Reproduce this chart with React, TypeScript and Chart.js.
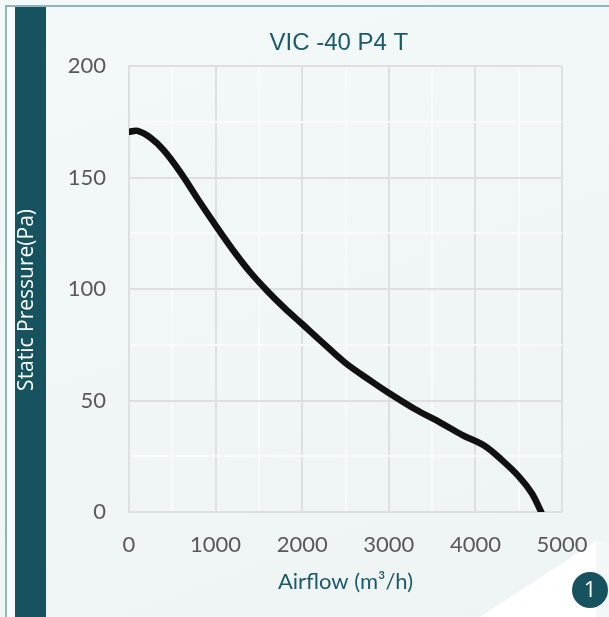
import React, { useEffect, useRef } from "react";
import { Chart, registerables } from "chart.js";

Chart.register(...registerables);

// Airflow (m³/h) and static pressure (Pa)
const airflow = [0, 100, 250, 400, 600, 800, 1000, 1200, 1400, 1600, 1800, 2000, 2200, 2500, 2800, 3000, 3300, 3600, 3850, 4100, 4300, 4500, 4650, 4760];
const pressure = [170.5, 170.9, 167.8, 162.3, 152, 140, 128.5, 117.5, 107.5, 99, 91.3, 84.3, 77.2, 66.8, 58.6, 53.4, 46.2, 40, 34.5, 29.8, 23.5, 16, 8.5, 0];

const xTicks = [0, 1000, 2000, 3000, 4000, 5000];
const yTicks = [0, 50, 100, 150, 200];

const chartTitle = "VIC -40 P4 T";
const xTitle = "Airflow (m³/h)";
const yTitle = "Static Pressure(Pa)";
const badge = "1";

const TEAL = "#17535f";
const TEAL_TEXT = "#1b5a67";
const MAJOR = "#dedfe1";
const MINOR = "#f9fbfb";

const decor = {
  id: "decor",
  beforeDraw(chart: any) {
    const ctx = chart.ctx;
    const W = chart.width;
    const H = chart.height;
    ctx.save();
    // outer border
    ctx.fillStyle = "#f8fbfb";
    ctx.fillRect(7, 7, 8, H - 7);
    ctx.fillStyle = "#93b4bc";
    ctx.fillRect(5, 5, W - 5, 2);
    ctx.fillRect(5, 5, 2, H - 5);
    // teal bar
    ctx.fillStyle = TEAL;
    ctx.fillRect(15, 7, 31, H - 7);
    // white fold bottom-right
    ctx.fillStyle = "#ffffff";
    ctx.beginPath();
    ctx.moveTo(480, H);
    ctx.lineTo(598, 540);
    ctx.lineTo(W, 546);
    ctx.lineTo(W, H);
    ctx.closePath();
    ctx.fill();
    ctx.fillStyle = "#f4f7f7";
    ctx.beginPath();
    ctx.moveTo(596, 542);
    ctx.lineTo(598, 540);
    ctx.lineTo(W, 546);
    ctx.lineTo(W, H);
    ctx.lineTo(596, H);
    ctx.closePath();
    ctx.fill();
    // badge circle
    ctx.fillStyle = TEAL;
    ctx.beginPath();
    ctx.arc(590, 590, 18, 0, Math.PI * 2);
    ctx.fill();
    ctx.fillStyle = "#ffffff";
    ctx.font = "22px 'Open Sans'";
    ctx.textAlign = "center";
    ctx.textBaseline = "middle";
    ctx.fillText(badge, 590, 591);
    ctx.restore();
  },
};

export default function App() {
  const ref = useRef<HTMLCanvasElement | null>(null);

  useEffect(() => {
    if (!ref.current) return;
    const chart = new Chart(ref.current, {
      type: "scatter",
      data: {
        datasets: [
          {
            data: airflow.map((q, i) => ({ x: q, y: pressure[i] })),
            showLine: true,
            borderColor: "#111111",
            borderWidth: 6.5,
            pointRadius: 0,
            tension: 0.35,
            borderCapStyle: "round",
            borderJoinStyle: "round",
          },
        ],
      },
      plugins: [decor],
      options: {
        animation: false,
        responsive: false,
        layout: { padding: { left: 0, right: 47, top: 0, bottom: 0 } },
        plugins: {
          legend: { display: false },
          tooltip: { enabled: false },
          title: {
            display: true,
            fullSize: false,
            text: chartTitle + "  ",
            color: TEAL_TEXT,
            font: { family: "'Liberation Sans', Arial, sans-serif", size: 24, weight: "normal" },
            padding: { top: 28.6, bottom: 8.6 },
          },
        },
        scales: {
          x: {
            type: "linear",
            min: xTicks[0],
            max: xTicks[xTicks.length - 1],
            afterFit(scale: any) {
              scale.height = 105;
            },
            ticks: {
              stepSize: 500,
              padding: 20,
              color: "#595959",
              font: { family: "Lato", size: 22 },
              callback: (v: any) => (xTicks.includes(Number(v)) ? String(v) : ""),
              maxRotation: 0,
              autoSkip: false,
            },
            grid: {
              drawTicks: false,
              color: (c: any) => (c.tick && xTicks.includes(c.tick.value) ? MAJOR : MINOR),
              lineWidth: 2,
            },
            border: { display: true, color: MAJOR, width: 2 },
            title: {
              display: true,
              text: xTitle,
              color: TEAL_TEXT,
              font: { family: "Lato", size: 22 },
              padding: { top: 0, bottom: 22 },
            },
          },
          y: {
            type: "linear",
            min: yTicks[0],
            max: yTicks[yTicks.length - 1],
            afterFit(scale: any) {
              scale.width = 129;
            },
            ticks: {
              stepSize: 25,
              padding: 23,
              color: "#595959",
              font: { family: "Lato", size: 22 },
              callback: (v: any) => (yTicks.includes(Number(v)) ? String(v) : ""),
              autoSkip: false,
            },
            grid: {
              drawTicks: false,
              color: (c: any) => (c.tick && yTicks.includes(c.tick.value) ? MAJOR : MINOR),
              lineWidth: 2,
            },
            border: { display: true, color: MAJOR, width: 2 },
            title: {
              display: true,
              text: yTitle + "    ",
              color: "#ffffff",
              font: { family: "'Open Sans'", size: 21 },
              padding: { top: 14.4, bottom: 0 },
            },
          },
        },
      },
    } as any);
    return () => chart.destroy();
  }, []);

  return (
    <div
      style={{
        position: "absolute",
        left: 0,
        top: 0,
        width: 609,
        height: 617,
        overflow: "hidden",
        background: "linear-gradient(160deg, #f3f8f8 0%, #f0f5f5 60%, #eef4f4 100%)",
      }}
    >
      <canvas ref={ref} width={609} height={617} style={{ display: "block" }} />
    </div>
  );
}
